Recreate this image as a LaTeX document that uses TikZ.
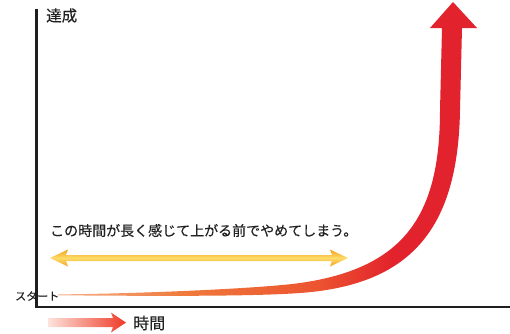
\documentclass[tikz,border=0pt]{standalone}
\usepackage{fontspec}
\newfontfamily\jp[FakeBold=0.35]{Noto Sans CJK JP}
\definecolor{axisc}{HTML}{1E1E1E}
\definecolor{txtc}{HTML}{222222}
\definecolor{cA}{HTML}{F7B08A}
\definecolor{cB}{HTML}{EF7A3C}
\definecolor{cC}{HTML}{EC5430}
\definecolor{cD}{HTML}{E2222C}
\definecolor{yEdge}{HTML}{F4A21C}
\definecolor{yMid}{HTML}{FDDC6A}
\definecolor{rArrow}{HTML}{EE3A26}
\definecolor{rLight}{HTML}{FDE3DC}
\pgfdeclarehorizontalshading{curveshade}{100bp}{color(0bp)=(cA); color(25bp)=(cA); color(40bp)=(cB); color(56bp)=(cC); color(65bp)=(cD); color(100bp)=(cD)}
\tikzset{
  axisline/.style={draw=axisc, line width=2.4pt},
  lbl/.style={inner sep=0pt, anchor=west, text=txtc, font=\jp},
}
\begin{document}
\begin{tikzpicture}[x=1pt,y=-1pt]
\useasboundingbox (0,0) rectangle (510,333);
% axes
\coordinate (ytop) at (36.5,9);
\coordinate (orig) at (36.5,308.2);
\coordinate (xstart) at (35.3,307);
\coordinate (xend) at (510,307);
\draw[axisline] (ytop) -- (orig);
\draw[axisline] (xstart) -- (xend);
% labels
\node[lbl, font=\jp\fontsize{15.5}{15.5}\selectfont] (goal) at (46,15.5) {達成};
\node[lbl, font=\jp\fontsize{11}{11}\selectfont] (start) at (15,296) {スタート};
\node[lbl, font=\jp\fontsize{14}{14}\selectfont] (msg) at (50,230.5) {この時間が長く感じて上がる前でやめてしまう。};
\node[lbl, font=\jp\fontsize{16}{16}\selectfont] (time) at (133,323) {時間};
% growth curve arrow
\path[shading=curveshade]
  (58,295.3) .. controls (150,296) and (250,296.6) .. (300,293)
  .. controls (410,285) and (458,230) .. (460,110)
  -- (462,28) -- (477,28) -- (453,2) -- (430,28) -- (442,28) -- (440,110)
  .. controls (440,215) and (405,268) .. (300,283)
  .. controls (265,288) and (150,293.5) .. (58,294.4)
  -- cycle;
% double arrow (duration)
\path[top color=yEdge, bottom color=yEdge, middle color=yMid]
  (50,258) -- (68,249.5) -- (66,255) -- (332,255) -- (330,249.5) -- (348,258)
  -- (330,266.5) -- (332,261) -- (66,261) -- (68,266.5) -- cycle;
% time arrow
\path[left color=rLight, right color=rArrow]
  (48,318) -- (113,318) -- (111,312.5) -- (126,322.5) -- (111,332.5) -- (113,327) -- (48,327) -- cycle;
\end{tikzpicture}
\end{document}
